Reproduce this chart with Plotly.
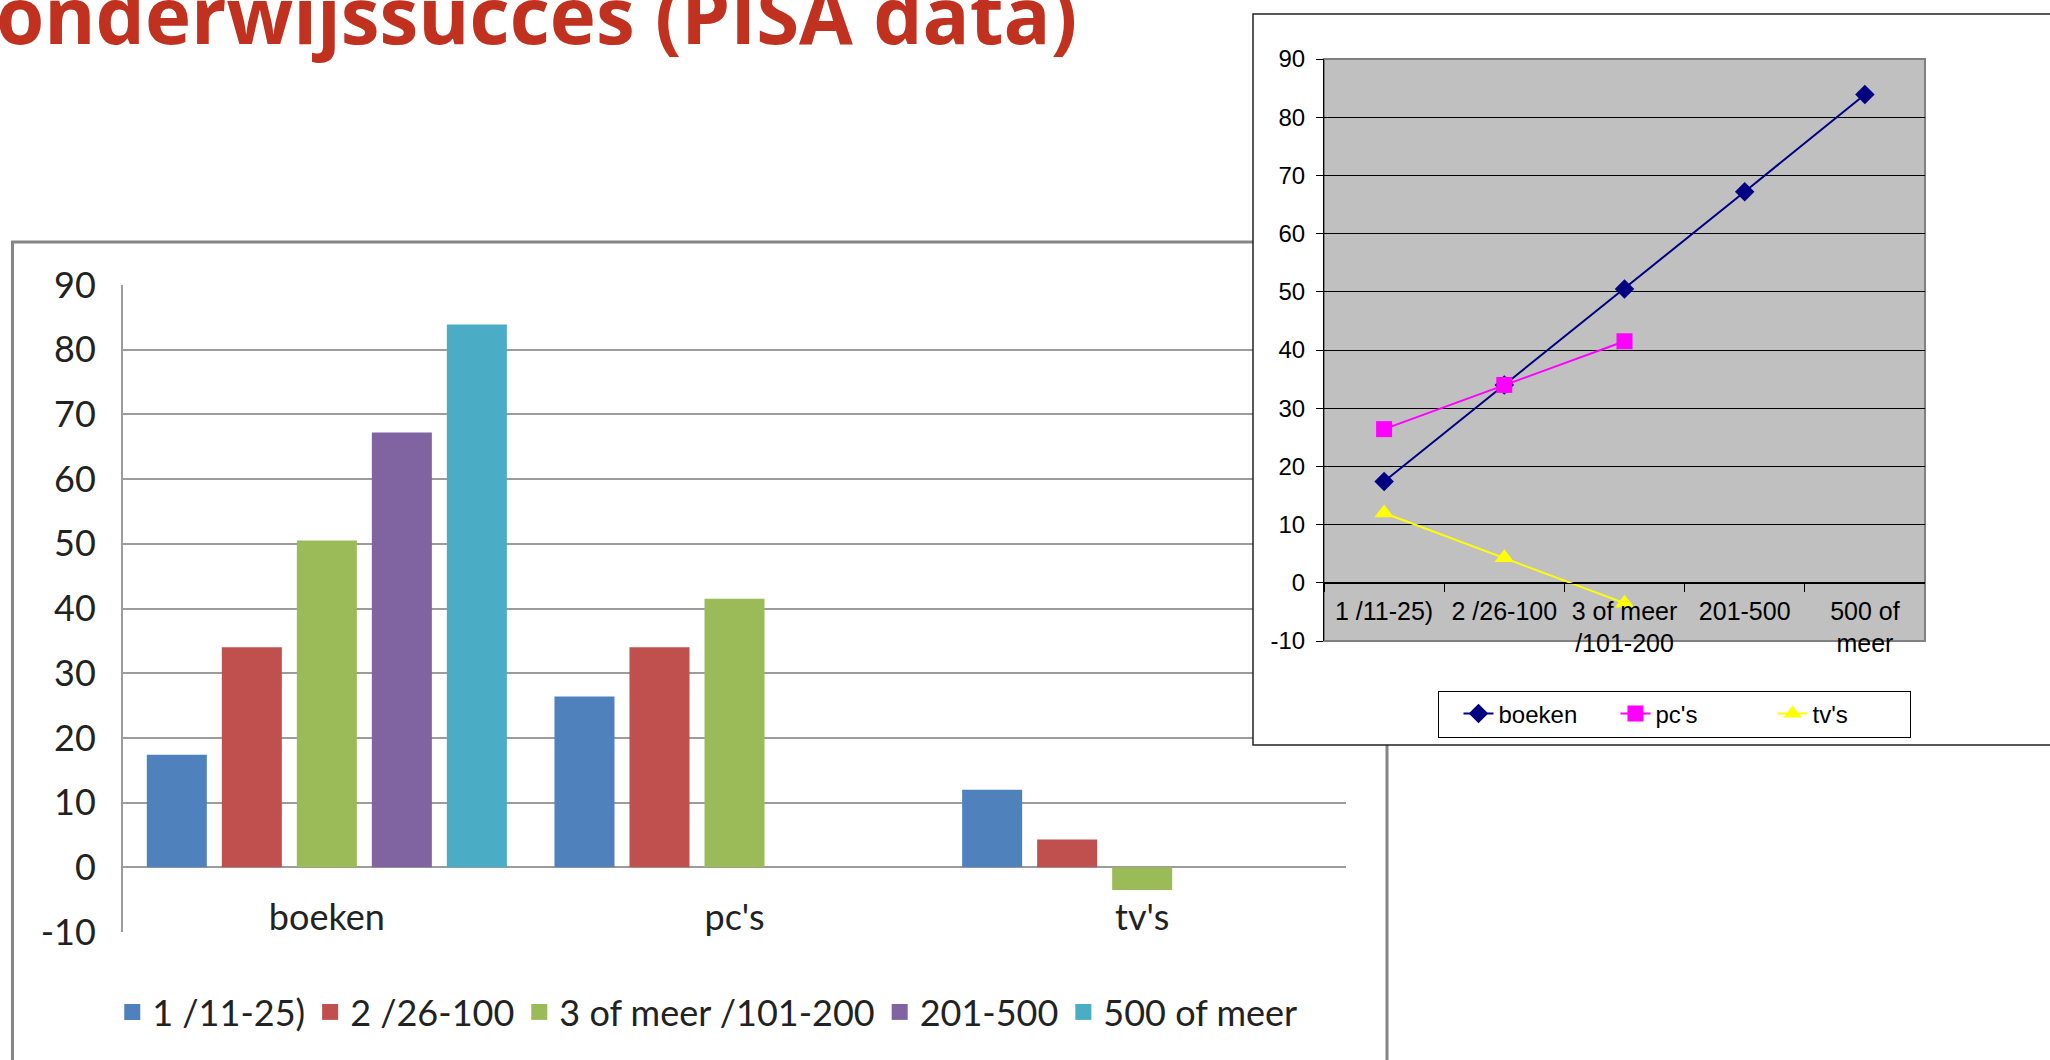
import plotly.graph_objects as go

# ---------------- data ----------------
categories = ["boeken", "pc's", "tv's"]
groups = ["1 /11-25)", "2 /26-100", "3 of meer /101-200", "201-500", "500 of meer"]
group_ticktext = ["1 /11-25)", "2 /26-100", "3 of meer<br>/101-200", "201-500", "500 of<br>meer"]
y_ticks = [-10, 0, 10, 20, 30, 40, 50, 60, 70, 80, 90]
y_ticktext = ["-10", "0", "10", "20", "30", "40", "50", "60", "70", "80", "90"]
title_text = "onderwijssucces (PISA data)"

boeken = [17.4, 34.0, 50.5, 67.2, 83.9]
pcs = [26.4, 34.0, 41.5]
tvs = [12.0, 4.3, -3.5]

bar_colors = ["#4F81BD", "#C0504D", "#9BBB59", "#8064A2", "#4BACC6"]
line_names = ["boeken", "pc's", "tv's"]
line_colors = ["#000080", "#FF00FF", "#FFFF00"]
line_symbols = ["diamond", "square", "triangle-up"]
line_sizes = [15, 16, 17]

# ---------------- layout geometry (pixels) ----------------
W, H = 2050, 1060
LX0, LX1, LY0, LY1 = 123, 1346, 285, 932        # left plot area
RX0, RX1, RY0, RY1 = 1324, 1925, 59, 641         # right plot area
FX0, FX1, FY0, FY1 = 1253, 2060, 14, 745         # right chart frame
LFX0, LFX1, LFY0 = 12.5, 1387, 242               # left chart frame (open at bottom)


def fx(p):
    return p / W


def fy(p):
    return 1 - p / H


ymin, ymax = y_ticks[0], y_ticks[-1]
zero_frac = (0 - ymin) / (ymax - ymin)

fig = go.Figure()

series_vals = [[boeken[i] if i < len(boeken) else None,
                pcs[i] if i < len(pcs) else None,
                tvs[i] if i < len(tvs) else None] for i in range(len(groups))]

for name, vals, col in zip(groups, series_vals, bar_colors):
    fig.add_trace(go.Bar(x=categories, y=vals, name=name, marker_color=col,
                         marker_line_width=0, xaxis="x", yaxis="y",
                         showlegend=False, legendgroup=name))
for name, col in zip(groups, bar_colors):
    fig.add_trace(go.Scatter(x=[None], y=[None], mode="markers", name=name,
                             marker=dict(symbol="square", size=22, color=col),
                             xaxis="x", yaxis="y", legend="legend", legendgroup=name))

# slide title, clipped at the top edge of the page
fig.add_trace(go.Scatter(x=[-4], y=[24], mode="text", text=[title_text],
                         textposition="middle right", cliponaxis=True,
                         textfont=dict(family="Open Sans", size=78, color="#C0321F", weight=700),
                         xaxis="x2", yaxis="y2", showlegend=False, hoverinfo="skip"))

line_series = [boeken, pcs, tvs]
for name, vals, col, sym, sz in zip(line_names, line_series, line_colors, line_symbols, line_sizes):
    fig.add_trace(go.Scatter(x=groups[:len(vals)], y=vals, name=name, mode="lines+markers",
                             line=dict(color=col, width=2),
                             marker=dict(symbol=sym, size=sz, color=col),
                             xaxis="x3", yaxis="y3", legend="legend2"))

left_font = dict(family="Lato", size=36, color="#222222")
right_font = dict(family="Liberation Sans", size=24, color="#000000")
right_cat_font = dict(family="Liberation Sans", size=25, color="#000000")

fig.update_layout(
    width=W, height=H,
    margin=dict(l=0, r=0, t=0, b=0, pad=0, autoexpand=False),
    paper_bgcolor="white",
    plot_bgcolor="rgba(0,0,0,0)",
    barmode="group", bargap=0.08, bargroupgap=0.2,
    showlegend=True,
    xaxis=dict(domain=[fx(LX0), fx(LX1)], anchor="free",
               position=fy(LY1) + zero_frac * (fy(LY0) - fy(LY1)),
               type="category", categoryorder="array", categoryarray=categories,
               showline=False, showgrid=False, zeroline=False, ticks="",
               tickfont=left_font, ticklabelstandoff=26, fixedrange=True, automargin=False),
    yaxis=dict(domain=[fy(LY1), fy(LY0)], anchor="x", range=[ymin, ymax],
               tickvals=y_ticks, ticktext=y_ticktext,
               showgrid=True, gridcolor="#9C9C9C", gridwidth=2,
               zeroline=True, zerolinecolor="#9C9C9C", zerolinewidth=2,
               showline=True, linecolor="#9C9C9C", linewidth=2, ticks="",
               tickfont=left_font, ticklabelstandoff=18, fixedrange=True, automargin=False),
    xaxis2=dict(domain=[0, 1], range=[0, W], anchor="y2", visible=False, fixedrange=True),
    yaxis2=dict(domain=[0, 1], range=[H, 0], anchor="x2", visible=False, fixedrange=True),
    xaxis3=dict(domain=[fx(RX0), fx(RX1)], anchor="free",
                position=fy(RY1) + zero_frac * (fy(RY0) - fy(RY1)),
                type="category", categoryorder="array", categoryarray=groups,
                range=[-0.5, len(groups) - 0.5],
                tickvals=groups, ticktext=group_ticktext, tickson="boundaries",
                ticks="outside", ticklen=8, tickcolor="black", tickwidth=1,
                showline=True, linecolor="black", linewidth=1, showgrid=False,
                tickfont=right_cat_font, ticklabelstandoff=6,
                fixedrange=True, automargin=False),
    yaxis3=dict(domain=[fy(RY1), fy(RY0)], anchor="x3", range=[ymin, ymax],
                tickvals=y_ticks, ticktext=y_ticktext,
                showgrid=True, gridcolor="black", gridwidth=1,
                zeroline=True, zerolinecolor="black", zerolinewidth=1,
                showline=True, linecolor="black", linewidth=1,
                ticks="outside", ticklen=7, tickcolor="black",
                tickfont=right_font, ticklabelstandoff=6, fixedrange=True, automargin=False),
    legend=dict(orientation="h", x=0.345, xanchor="center", y=fy(1012), yanchor="middle",
                font=left_font, bgcolor="rgba(0,0,0,0)", borderwidth=0,
                itemsizing="trace", traceorder="normal"),
    legend2=dict(orientation="h", x=fx(1674), xanchor="center",
                 y=fy(714), yanchor="middle", font=right_font,
                 bgcolor="white", bordercolor="black", borderwidth=1,
                 itemsizing="trace", traceorder="normal", indentation=20,
                 entrywidth=92, entrywidthmode="pixels"),
)

fig.update_layout(shapes=[
    dict(type="path", xref="x2", yref="y2",
         path=f"M {LFX0},{H} L {LFX0},{LFY0} L {LFX1},{LFY0} L {LFX1},{H}",
         line=dict(color="#858585", width=3), layer="below"),
    dict(type="rect", xref="x2", yref="y2", x0=FX0, x1=FX1, y0=FY0, y1=FY1,
         line=dict(color="#222222", width=1.5), fillcolor="white", layer="below"),
    dict(type="rect", xref="x2", yref="y2", x0=RX0, x1=RX1, y0=RY0, y1=RY1,
         line=dict(color="#808080", width=2), fillcolor="#C0C0C0", layer="below"),
])

fig.write_html("out.html", config={"displayModeBar": False},
               post_script="document.body.style.margin='0';"
                           "document.body.style.overflow='hidden';"
                           "document.documentElement.style.overflow='hidden';")
